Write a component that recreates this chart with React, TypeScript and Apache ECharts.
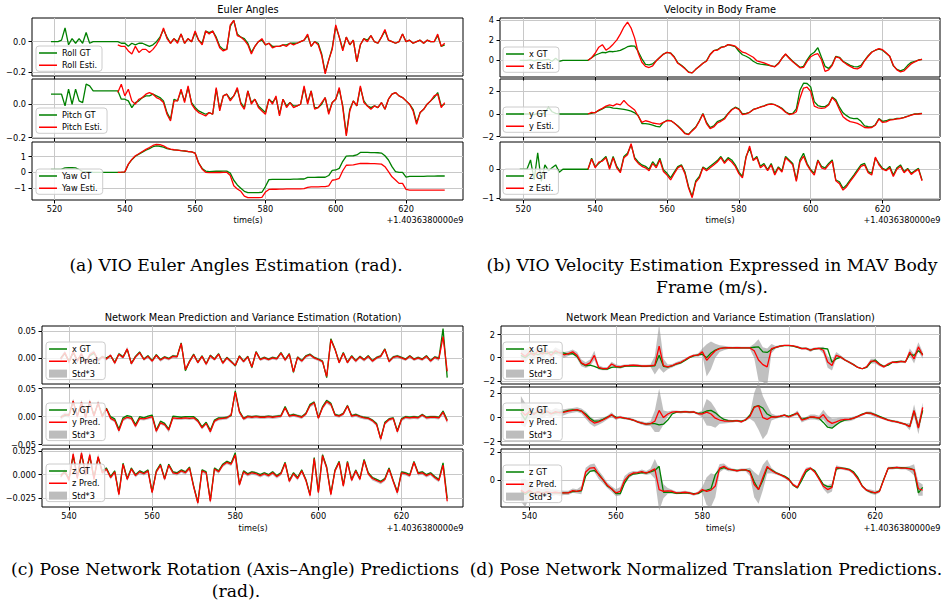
import React, { useEffect, useRef } from 'react';
import * as echarts from 'echarts';

// ---------------- time grids (start second, 1 s step) ----------------
const GT_START = 519;   // VIO ground truth starts
const EST_START = 538;  // estimates / network predictions start

// ---------------- (a) Euler angles (rad) ----------------
const rollGT = [
  0.00,
  0.00, 0.00, 0.01, 0.09, -0.02, 0.02, -0.01, 0.02, -0.01, 0.06,
  -0.01, 0.00, 0.00, 0.00, 0.00, 0.00, 0.00, 0.00, 0.00, -0.01,
  -0.01, -0.03, -0.01, -0.02, -0.01, -0.01, -0.02, -0.03, -0.02, 0.00,
  0.03, 0.08, 0.03, -0.01, 0.02, 0.00, 0.05, -0.01, 0.02, 0.00,
  0.06, 0.01, -0.01, 0.07, 0.06, 0.07, 0.03, -0.03, -0.05, -0.05,
  0.10, 0.14, 0.05, 0.03, 0.02, -0.01, -0.07, -0.03, 0.00, 0.01,
  -0.02, -0.01, -0.03, -0.03, -0.03, -0.02, -0.02, -0.01, -0.01, -0.01,
  0.00, 0.01, 0.04, -0.03, 0.00, -0.01, -0.08, -0.20, -0.12, -0.04,
  0.10, 0.03, -0.05, 0.03, -0.02, 0.01, -0.13, -0.02, 0.02, 0.01,
  0.04, 0.00, -0.01, 0.03, 0.07, 0.01, 0.00, -0.01, 0.00, 0.05,
  0.00, 0.01, -0.01, 0.00, 0.01, -0.01, 0.01, 0.00, 0.00, 0.04,
  -0.03, -0.02,
];
const rollEst = [
  -0.02, -0.03,
  -0.03, -0.06, -0.08, -0.03, -0.07, -0.05, -0.05, -0.07, -0.05, -0.02,
  0.02, 0.09, 0.02, -0.01, 0.02, -0.01, 0.05, -0.01, 0.02, 0.00,
  0.07, 0.01, -0.02, 0.07, 0.05, 0.07, 0.02, -0.04, -0.06, -0.05,
  0.11, 0.14, 0.04, 0.03, 0.01, -0.02, -0.08, -0.03, 0.00, 0.02,
  -0.02, -0.01, -0.04, -0.03, -0.03, -0.02, -0.03, -0.01, -0.02, -0.01,
  0.00, 0.01, 0.05, -0.03, 0.00, -0.02, -0.09, -0.21, -0.12, -0.05,
  0.11, 0.03, -0.06, 0.03, -0.02, 0.01, -0.13, -0.02, 0.02, 0.00,
  0.04, 0.00, -0.01, 0.03, 0.08, 0.01, 0.00, -0.01, 0.00, 0.05,
  0.00, 0.01, -0.01, 0.00, 0.01, -0.01, 0.01, 0.00, 0.00, 0.05,
  -0.03, -0.01,
];
const pitchGT = [
  0.06,
  0.06, 0.06, 0.06, -0.01, 0.09, 0.00, 0.09, 0.02, 0.01, 0.12,
  0.11, 0.08, 0.08, 0.08, 0.08, 0.08, 0.08, 0.08, 0.08, 0.03,
  0.03, 0.02, -0.02, 0.01, 0.02, 0.04, 0.05, 0.05, 0.06, 0.05,
  0.04, 0.02, -0.05, -0.09, 0.03, 0.02, 0.08, 0.02, 0.10, 0.01,
  -0.02, -0.04, -0.05, -0.06, -0.05, -0.06, 0.09, -0.03, 0.05, 0.06,
  0.03, 0.05, 0.09, 0.01, -0.02, 0.08, 0.01, 0.03, -0.01, -0.03,
  -0.05, 0.03, 0.01, 0.04, -0.06, 0.03, -0.01, 0.01, -0.01, -0.01,
  0.00, 0.10, 0.01, 0.08, -0.02, -0.02, 0.00, 0.04, -0.05, 0.01,
  0.03, 0.09, -0.01, -0.18, -0.03, 0.02, -0.01, 0.10, 0.02, -0.01,
  -0.02, -0.01, -0.02, 0.01, -0.03, 0.03, 0.06, 0.07, 0.05, 0.04,
  0.02, 0.00, -0.03, -0.11, -0.05, -0.03, 0.00, 0.02, 0.04, 0.07,
  -0.01, 0.00,
];
const pitchEst = [
  0.07, 0.12,
  0.05, 0.09, 0.02, 0.00, 0.03, 0.04, 0.06, 0.07, 0.06, 0.04,
  0.03, 0.01, -0.06, -0.10, 0.02, 0.02, 0.09, 0.01, 0.11, 0.00,
  -0.03, -0.05, -0.06, -0.07, -0.05, -0.06, 0.10, -0.04, 0.05, 0.06,
  0.02, 0.05, 0.10, 0.00, -0.03, 0.08, 0.00, 0.03, -0.02, -0.04,
  -0.06, 0.03, 0.00, 0.05, -0.07, 0.03, -0.02, 0.01, -0.02, -0.01,
  0.00, 0.11, 0.00, 0.08, -0.03, -0.02, 0.01, 0.04, -0.06, 0.01,
  0.03, 0.10, -0.02, -0.19, -0.04, 0.02, -0.01, 0.11, 0.01, -0.01,
  -0.03, -0.01, -0.02, 0.01, -0.03, 0.03, 0.06, 0.07, 0.05, 0.04,
  0.02, 0.00, -0.04, -0.12, -0.05, -0.03, 0.00, 0.02, 0.05, 0.06,
  -0.02, 0.01,
];
const yawGT = [
  0.19,
  0.19, 0.19, 0.20, 0.28, 0.29, 0.29, 0.28, 0.18, 0.05, 0.05,
  0.04, 0.00, 0.00, 0.00, 0.00, 0.00, 0.00, 0.00, 0.00, 0.00,
  0.02, 0.50, 0.80, 1.02, 1.15, 1.28, 1.40, 1.50, 1.62, 1.68,
  1.65, 1.60, 1.50, 1.45, 1.42, 1.40, 1.37, 1.35, 1.31, 1.30,
  1.22, 0.60, 0.25, 0.08, 0.05, 0.06, 0.07, 0.07, 0.08, 0.08,
  -0.05, -0.50, -0.80, -1.00, -1.20, -1.28, -1.28, -1.28, -1.28, -1.26,
  -0.90, -0.46, -0.45, -0.45, -0.45, -0.45, -0.44, -0.44, -0.43, -0.43,
  -0.42, -0.42, -0.32, -0.32, -0.32, -0.31, -0.31, -0.31, -0.20, 0.12,
  0.15, 0.25, 0.70, 1.03, 1.04, 1.05, 1.10, 1.26, 1.26, 1.26,
  1.25, 1.25, 1.24, 1.22, 1.05, 0.78, 0.36, 0.05, 0.00, 0.00,
  -0.30, -0.26, -0.26, -0.26, -0.25, -0.25, -0.24, -0.24, -0.24, -0.23,
  -0.23, -0.23,
];
const yawEst = [
  0.00, 0.01,
  0.03, 0.52, 0.82, 1.05, 1.18, 1.32, 1.45, 1.57, 1.70, 1.77,
  1.76, 1.68, 1.55, 1.47, 1.43, 1.41, 1.38, 1.36, 1.32, 1.30,
  1.21, 0.58, 0.20, 0.00, -0.02, -0.02, -0.01, -0.01, 0.00, 0.00,
  -0.20, -0.85, -1.05, -1.20, -1.50, -1.60, -1.60, -1.60, -1.60, -1.58,
  -1.25, -1.08, -1.07, -1.07, -1.06, -1.06, -1.05, -1.05, -1.05, -1.04,
  -1.04, -1.03, -0.95, -0.92, -0.92, -0.92, -0.91, -0.91, -0.85, -0.50,
  -0.46, -0.38, 0.10, 0.45, 0.46, 0.47, 0.52, 0.57, 0.56, 0.56,
  0.55, 0.55, 0.54, 0.52, 0.36, 0.05, -0.28, -0.48, -0.70, -0.70,
  -1.08, -1.12, -1.12, -1.12, -1.12, -1.12, -1.13, -1.13, -1.13, -1.13,
  -1.13, -1.13,
];

// ---------------- (b) velocity in body frame (m/s) ----------------
const vxGT = [
  0.00,
  0.00, 0.00, 0.05, -0.05, 0.05, 0.00, 0.05, 0.10, -0.10, 0.20,
  -0.10, 0.00, 0.00, 0.00, 0.00, 0.00, 0.00, 0.00, 0.00, 0.25,
  0.50, 0.65, 0.78, 0.75, 0.88, 0.85, 0.90, 0.98, 1.15, 1.35,
  1.42, 1.40, 0.85, 0.15, -0.40, -0.45, -0.35, -0.05, 0.30, 0.62,
  0.78, 0.72, 0.35, -0.25, -0.50, -0.80, -1.15, -1.25, -0.90, -0.60,
  -0.30, -0.05, 0.60, 0.95, 1.05, 1.30, 1.35, 1.55, 1.45, 1.35,
  0.90, 0.55, 0.40, 0.20, -0.10, -0.30, -0.38, -0.42, -0.48, -0.55,
  -0.62, -0.30, 0.20, 0.60, 0.25, -0.10, -0.40, -0.70, -0.60, 0.05,
  0.55, 0.80, 1.25, 0.30, -0.60, -0.80, -0.40, 0.40, 0.30, -0.10,
  -0.30, -0.50, -0.62, -0.65, -0.50, 0.00, 0.45, 0.82, 1.00, 1.12,
  1.00, 0.70, 0.40, -0.55, -0.90, -1.05, -0.90, -0.50, -0.20, -0.12,
  0.03, 0.08,
];
const vxEst = [
  0.00, 0.25,
  0.70, 1.30, 1.55, 1.00, 1.25, 1.60, 2.00, 2.60, 3.30, 3.80,
  3.20, 2.20, 0.70, -0.20, -0.60, -0.72, -0.55, -0.05, 0.28, 0.60,
  0.78, 0.70, 0.30, -0.30, -0.55, -0.85, -1.20, -1.25, -0.90, -0.62,
  -0.30, -0.10, 0.55, 0.95, 1.00, 1.25, 1.35, 1.55, 1.50, 1.40,
  1.10, 0.80, 0.70, 0.50, 0.30, -0.05, -0.15, -0.25, -0.40, -0.55,
  -0.65, -0.35, 0.20, 0.62, 0.20, -0.15, -0.45, -0.75, -0.70, -0.10,
  0.35, 0.55, 0.65, 0.05, -1.10, -0.95, -0.50, 0.35, 0.25, -0.15,
  -0.40, -0.60, -0.80, -0.85, -0.65, -0.05, 0.40, 0.80, 1.00, 1.15,
  1.05, 0.75, 0.40, -0.50, -0.95, -1.15, -1.05, -0.70, -0.35, -0.15,
  0.02, 0.10,
];
const vyGT = [
  0.00,
  0.00, 0.00, 0.00, -0.05, 0.05, 0.00, 0.10, 0.60, 0.20, 0.05,
  0.00, 0.00, 0.00, 0.00, 0.00, 0.00, 0.00, 0.00, 0.00, 0.05,
  0.15, 0.30, 0.45, 0.62, 0.60, 0.52, 0.50, 0.45, 0.40, 0.35,
  0.25, 0.10, -0.15, -0.85, -0.85, -0.90, -0.98, -1.10, -1.15, -0.75,
  -0.55, -0.58, -0.80, -1.05, -1.35, -1.70, -1.80, -1.45, -1.15, -0.60,
  0.05, -0.75, -1.20, -1.05, -0.68, -0.55, -0.35, 0.05, 0.40, 0.60,
  0.45, 0.00, 0.05, 0.15, 0.40, 0.50, 0.62, 0.72, 0.85, 0.89,
  0.82, 0.68, 0.50, 0.20, 0.02, 0.05, 0.45, 2.10, 2.73, 2.70,
  2.40, 1.10, 0.75, 0.65, 0.65, 0.85, 1.50, 1.25, 0.60, 0.10,
  -0.15, -0.35, -0.42, -0.40, -0.65, -1.05, -1.13, -1.15, -0.95, -0.40,
  -0.65, -0.60, -0.48, -0.47, -0.40, -0.39, -0.30, -0.20, -0.08, 0.00,
  0.02, 0.05,
];
const vyEst = [
  0.00, 0.15,
  0.10, 0.35, 0.50, 0.70, 0.80, 0.72, 0.89, 0.80, 1.20, 0.85,
  0.60, 0.35, -0.20, -0.75, -0.60, -0.68, -0.80, -0.85, -0.90, -0.75,
  -0.60, -0.58, -0.80, -1.10, -1.40, -1.75, -1.82, -1.50, -1.20, -0.65,
  0.00, -0.85, -1.30, -1.15, -0.80, -0.65, -0.45, 0.00, 0.35, 0.55,
  0.40, -0.05, 0.00, 0.15, 0.38, 0.50, 0.60, 0.70, 0.82, 0.88,
  0.82, 0.65, 0.45, 0.15, -0.05, 0.00, 0.20, 1.40, 2.30, 2.37,
  2.00, 0.70, 0.55, 0.50, 0.55, 0.80, 1.45, 1.10, 0.40, -0.25,
  -0.50, -0.68, -0.75, -0.83, -1.00, -1.20, -1.22, -1.20, -1.00, -0.45,
  -0.75, -0.70, -0.55, -0.50, -0.43, -0.40, -0.32, -0.22, -0.10, -0.02,
  0.00, 0.03,
];
const vzGT = [
  0.00,
  0.00, 0.00, 0.32, -0.37, 0.57, -0.42, 0.15, -0.05, 0.05, 0.15,
  -0.10, 0.00, 0.00, 0.00, 0.00, 0.00, 0.00, 0.00, 0.00, 0.38,
  0.09, 0.20, 0.32, 0.44, 0.05, 0.44, 0.10, -0.08, 0.44, 0.55,
  0.84, 0.40, 0.25, 0.15, 0.10, 0.00, 0.26, 0.10, 0.38, -0.02,
  -0.14, -0.30, -0.10, 0.09, 0.15, -0.10, -0.60, -0.94, -0.40, -0.25,
  0.08, 0.00, 0.10, 0.20, 0.30, 0.44, 0.25, 0.40, 0.32, 0.15,
  -0.10, -0.25, 0.44, 0.72, 0.32, 0.44, 0.10, 0.20, -0.02, 0.20,
  -0.14, 0.08, -0.05, 0.44, 0.32, 0.20, -0.37, 0.32, 0.55, 0.20,
  -0.02, -0.14, 0.32, 0.10, 0.05, 0.20, 0.32, -0.37, -0.43, -0.66,
  -0.54, -0.37, -0.20, -0.02, 0.15, 0.20, -0.08, -0.14, 0.38, 0.20,
  0.03, -0.02, 0.10, -0.20, 0.05, 0.15, -0.08, 0.03, -0.14, -0.05,
  0.03, -0.37,
];
const vzEst = [
  0.00, 0.35,
  0.05, 0.25, 0.28, 0.40, 0.00, 0.40, 0.05, -0.12, 0.40, 0.50,
  0.88, 0.35, 0.20, 0.10, 0.05, -0.05, 0.20, 0.05, 0.32, -0.08,
  -0.20, -0.37, -0.15, 0.05, 0.12, -0.15, -0.65, -0.98, -0.45, -0.30,
  0.05, -0.05, 0.05, 0.15, 0.25, 0.40, 0.20, 0.35, 0.25, 0.10,
  -0.15, -0.30, 0.40, 0.80, 0.30, 0.40, 0.05, 0.15, -0.05, 0.15,
  -0.20, 0.05, -0.10, 0.40, 0.28, 0.15, -0.42, 0.25, 0.45, 0.15,
  -0.05, -0.20, 0.30, 0.05, 0.00, 0.15, 0.28, -0.40, -0.50, -0.72,
  -0.60, -0.42, -0.25, -0.08, 0.10, 0.15, -0.12, -0.20, 0.42, 0.15,
  0.00, -0.05, 0.05, -0.25, 0.00, 0.10, -0.12, 0.00, -0.18, -0.08,
  0.00, -0.40,
];

// ---------------- (c) rotation network predictions (rad) ----------------
const rxGT = [
  0.000, 0.008,
  -0.006, 0.010, -0.004, 0.006, -0.008, 0.004, 0.009, -0.003, 0.002, 0.000,
  0.004, -0.008, 0.008, 0.002, 0.016, -0.010, 0.003, 0.011, -0.002, 0.004,
  -0.005, 0.006, -0.003, 0.002, -0.001, 0.004, 0.003, 0.028, -0.024, -0.006,
  0.007, -0.008, 0.004, -0.011, 0.005, -0.002, 0.008, -0.009, 0.001, -0.006,
  -0.015, 0.004, -0.006, 0.003, -0.018, 0.012, -0.002, 0.001, -0.002, 0.001,
  -0.001, 0.010, -0.003, 0.008, -0.027, 0.002, -0.005, 0.004, 0.007, 0.001,
  -0.002, -0.006, -0.037, 0.036, 0.017, -0.008, 0.010, -0.008, 0.004, -0.005,
  0.003, -0.003, 0.004, -0.005, 0.001, 0.004, 0.017, -0.006, 0.002, 0.004,
  0.001, -0.002, 0.004, -0.002, 0.001, -0.002, 0.004, -0.005, 0.002, -0.001,
  0.055, -0.037,
];
const rxPred = [
  -0.002, 0.010,
  -0.008, 0.012, -0.006, 0.008, -0.010, 0.006, 0.011, -0.005, 0.002, -0.002,
  0.005, -0.010, 0.007, 0.001, 0.017, -0.011, 0.002, 0.010, -0.003, 0.003,
  -0.006, 0.005, -0.004, 0.001, -0.002, 0.003, 0.002, 0.027, -0.022, -0.007,
  0.006, -0.009, 0.003, -0.012, 0.004, -0.003, 0.007, -0.010, 0.000, -0.007,
  -0.014, 0.003, -0.007, 0.002, -0.017, 0.011, -0.003, 0.000, -0.003, 0.000,
  -0.002, 0.009, -0.004, 0.007, -0.026, 0.001, -0.006, 0.003, 0.006, 0.000,
  -0.003, -0.007, -0.035, 0.034, 0.016, -0.009, 0.009, -0.009, 0.003, -0.006,
  0.002, -0.004, 0.003, -0.006, 0.000, 0.003, 0.016, -0.007, 0.001, 0.003,
  0.000, -0.003, 0.003, -0.003, 0.000, -0.003, 0.003, -0.006, 0.001, -0.002,
  0.040, -0.025,
];
const rxStd3 = [
  0.004, 0.004,
  0.004, 0.004, 0.004, 0.004, 0.004, 0.004, 0.004, 0.004, 0.003, 0.003,
  0.003, 0.003, 0.003, 0.003, 0.004, 0.003, 0.003, 0.003, 0.003, 0.003,
  0.003, 0.003, 0.003, 0.003, 0.003, 0.003, 0.003, 0.004, 0.004, 0.003,
  0.003, 0.003, 0.003, 0.003, 0.003, 0.003, 0.003, 0.003, 0.003, 0.003,
  0.003, 0.003, 0.003, 0.003, 0.004, 0.003, 0.003, 0.003, 0.003, 0.003,
  0.003, 0.003, 0.003, 0.003, 0.004, 0.003, 0.003, 0.003, 0.003, 0.003,
  0.003, 0.003, 0.004, 0.004, 0.003, 0.003, 0.003, 0.003, 0.003, 0.003,
  0.003, 0.003, 0.003, 0.003, 0.003, 0.003, 0.003, 0.003, 0.003, 0.003,
  0.003, 0.003, 0.003, 0.003, 0.003, 0.003, 0.003, 0.003, 0.003, 0.004,
  0.005, 0.005,
];
const ryGT = [
  0.000, 0.002,
  0.004, 0.027, 0.002, 0.025, 0.000, 0.026, 0.003, 0.024, 0.002, 0.015,
  0.000, -0.004, -0.022, -0.002, 0.002, 0.000, -0.014, 0.000, -0.002, 0.001,
  0.003, -0.024, -0.008, -0.012, -0.022, 0.001, 0.000, -0.001, 0.000, 0.000,
  0.000, -0.006, -0.018, -0.010, -0.024, -0.006, -0.002, -0.002, -0.001, 0.002,
  0.046, 0.010, -0.003, 0.001, 0.000, 0.001, 0.000, 0.000, 0.001, 0.000,
  0.001, 0.002, 0.018, 0.002, 0.004, 0.002, 0.000, 0.006, 0.022, 0.026,
  -0.002, 0.018, 0.029, 0.024, 0.004, 0.002, 0.006, 0.020, 0.002, 0.004,
  0.001, -0.001, -0.002, -0.006, -0.012, -0.039, -0.010, -0.004, -0.002, -0.025,
  -0.004, 0.000, -0.001, 0.000, -0.001, 0.004, -0.001, 0.000, 0.000, -0.001,
  0.010, -0.006,
];
const ryPred = [
  -0.002, 0.004,
  0.002, 0.028, 0.000, 0.026, -0.002, 0.027, 0.001, 0.025, 0.000, 0.014,
  -0.003, -0.007, -0.025, -0.005, -0.001, -0.003, -0.017, -0.003, -0.004, -0.002,
  0.000, -0.026, -0.011, -0.014, -0.024, -0.002, -0.003, -0.003, -0.002, -0.003,
  -0.002, -0.008, -0.020, -0.012, -0.027, -0.008, -0.004, -0.003, -0.002, 0.003,
  0.044, 0.008, -0.004, 0.000, -0.001, 0.000, -0.001, -0.001, 0.000, -0.001,
  0.000, 0.001, 0.016, 0.001, 0.003, 0.001, -0.001, 0.005, 0.020, 0.025,
  -0.003, 0.016, 0.027, 0.022, 0.003, 0.001, 0.005, 0.019, 0.001, 0.003,
  0.000, -0.002, -0.003, -0.007, -0.014, -0.040, -0.012, -0.005, -0.003, -0.027,
  -0.005, -0.001, -0.002, -0.001, -0.002, 0.003, -0.002, -0.001, -0.001, -0.002,
  0.008, -0.008,
];
const ryStd3 = [
  0.004, 0.004,
  0.004, 0.004, 0.004, 0.004, 0.004, 0.004, 0.004, 0.004, 0.003, 0.003,
  0.003, 0.003, 0.004, 0.003, 0.003, 0.003, 0.003, 0.003, 0.003, 0.003,
  0.003, 0.004, 0.003, 0.003, 0.004, 0.003, 0.003, 0.003, 0.003, 0.003,
  0.003, 0.003, 0.003, 0.003, 0.004, 0.003, 0.003, 0.003, 0.003, 0.003,
  0.004, 0.003, 0.003, 0.003, 0.003, 0.003, 0.003, 0.003, 0.003, 0.003,
  0.003, 0.003, 0.003, 0.003, 0.003, 0.003, 0.003, 0.003, 0.003, 0.004,
  0.003, 0.003, 0.004, 0.004, 0.003, 0.003, 0.003, 0.003, 0.003, 0.003,
  0.003, 0.003, 0.003, 0.003, 0.003, 0.005, 0.003, 0.003, 0.003, 0.004,
  0.003, 0.003, 0.003, 0.003, 0.003, 0.003, 0.003, 0.003, 0.003, 0.003,
  0.004, 0.004,
];
const rzGT = [
  0.000, 0.002,
  -0.004, 0.020, -0.002, 0.021, 0.002, 0.019, -0.003, 0.018, 0.004, 0.007,
  -0.002, 0.004, -0.020, 0.012, -0.004, 0.007, 0.000, 0.004, 0.002, 0.005,
  -0.018, 0.004, 0.011, -0.004, 0.011, 0.003, 0.002, 0.005, 0.003, 0.008,
  -0.012, -0.029, 0.005, 0.003, -0.027, 0.007, 0.004, 0.011, 0.014, 0.012,
  0.023, -0.010, 0.004, 0.001, 0.003, 0.002, 0.000, 0.002, 0.000, 0.003,
  -0.001, 0.002, 0.013, -0.006, 0.002, -0.003, 0.005, -0.005, -0.021, 0.018,
  -0.018, 0.021, 0.008, -0.020, 0.005, 0.014, -0.011, 0.014, -0.005, 0.005,
  -0.004, 0.016, 0.002, -0.003, -0.005, -0.007, -0.004, 0.007, -0.006, -0.018,
  0.003, 0.002, 0.000, 0.014, 0.002, 0.003, 0.000, 0.002, -0.002, -0.005,
  0.0125, -0.025,
];
const rzPred = [
  -0.002, 0.004,
  -0.006, 0.022, -0.004, 0.023, 0.000, 0.021, -0.005, 0.019, 0.002, 0.006,
  -0.003, 0.003, -0.021, 0.011, -0.005, 0.006, -0.001, 0.003, 0.001, 0.004,
  -0.019, 0.003, 0.010, -0.005, 0.010, 0.002, 0.001, 0.004, 0.002, 0.007,
  -0.013, -0.030, 0.004, 0.002, -0.028, 0.006, 0.003, 0.010, 0.013, 0.011,
  0.021, -0.011, 0.003, 0.000, 0.002, 0.001, -0.001, 0.001, -0.001, 0.002,
  -0.002, 0.001, 0.012, -0.007, 0.001, -0.004, 0.004, -0.006, -0.022, 0.017,
  -0.019, 0.020, 0.007, -0.021, 0.004, 0.013, -0.012, 0.013, -0.006, 0.004,
  -0.005, 0.015, 0.001, -0.004, -0.006, -0.008, -0.005, 0.006, -0.007, -0.019,
  0.002, 0.001, -0.001, 0.013, 0.001, 0.002, -0.001, 0.001, -0.003, -0.006,
  0.010, -0.028,
];
const rzStd3 = [
  0.002, 0.002,
  0.002, 0.003, 0.002, 0.003, 0.002, 0.003, 0.002, 0.003, 0.002, 0.002,
  0.002, 0.002, 0.003, 0.002, 0.002, 0.002, 0.002, 0.002, 0.002, 0.002,
  0.003, 0.002, 0.002, 0.002, 0.002, 0.002, 0.002, 0.002, 0.002, 0.002,
  0.002, 0.003, 0.002, 0.002, 0.003, 0.002, 0.002, 0.002, 0.002, 0.002,
  0.003, 0.002, 0.002, 0.002, 0.002, 0.002, 0.002, 0.002, 0.002, 0.002,
  0.002, 0.002, 0.002, 0.002, 0.002, 0.002, 0.002, 0.002, 0.003, 0.002,
  0.003, 0.003, 0.002, 0.003, 0.002, 0.002, 0.002, 0.002, 0.002, 0.002,
  0.002, 0.002, 0.002, 0.002, 0.002, 0.002, 0.002, 0.002, 0.002, 0.003,
  0.002, 0.002, 0.002, 0.002, 0.002, 0.002, 0.002, 0.002, 0.002, 0.002,
  0.003, 0.003,
];

// ---------------- (d) normalized translation predictions ----------------
const txGT = [
  0.20, 0.00,
  0.30, 0.40, 0.25, 0.45, 0.35, 0.50, 0.40, 0.45, 0.40, 0.30,
  0.35, 0.10, -0.50, -0.70, -0.65, -0.75, -0.90, -1.00, -1.00, -0.85,
  -0.80, -0.85, -0.75, -0.72, -0.70, -0.72, -0.75, -0.75, -0.72, -0.70,
  0.20, -0.75, -0.82, -0.72, -0.55, -0.45, -0.25, 0.00, 0.15, 0.25,
  0.30, 0.00, 0.40, 0.65, 0.80, 0.84, 0.86, 0.84, 0.86, 0.84,
  0.84, 0.84, 0.90, 0.93, 0.50, 0.45, 0.70, 0.90, 1.00, 1.05,
  1.05, 1.00, 0.90, 0.80, 0.80, 0.65, 0.75, 0.80, 0.80, 0.75,
  -0.40, -0.10, 0.05, -0.20, -0.40, -0.60, -0.85, -0.96, -0.85, -0.40,
  -0.20, -0.55, -0.75, -0.65, -0.40, -0.35, -0.32, -0.35, 0.30, 0.20,
  0.60, 0.30,
];
const txPred = [
  0.40, 0.10,
  0.50, 0.20, 0.60, 0.30, 0.55, 0.20, 0.60, 0.40, 0.25, 0.35,
  0.50, 0.20, -0.45, -0.65, -0.45, 0.20, -0.85, -0.95, -0.95, -0.55,
  -0.75, -0.80, -0.70, -0.68, -0.65, -0.68, -0.72, -0.72, -0.70, -0.65,
  1.00, -0.70, -0.80, -0.70, -0.52, -0.40, -0.18, 0.05, 0.20, 0.22,
  0.50, -0.23, 0.20, 0.60, 0.78, 0.84, 0.86, 0.84, 0.86, 0.84,
  0.84, 0.84, 0.60, -0.20, -0.60, -0.80, 0.78, 0.90, 1.00, 1.07,
  1.07, 1.02, 0.93, 0.78, 0.80, 0.64, 0.78, 0.80, 0.64, -0.38,
  -0.67, 0.20, 0.05, -0.20, -0.40, -0.61, -0.85, -0.96, -0.80, -0.30,
  -0.30, -0.60, -0.80, -0.55, -0.38, -0.40, -0.32, -0.38, 0.49, -0.10,
  0.93, 0.20,
];
const txStd3 = [
  0.5, 0.6,
  0.4, 0.5, 0.4, 0.4, 0.3, 0.3, 0.3, 0.3, 0.25, 0.2,
  0.2, 0.3, 0.3, 0.25, 0.3, 0.4, 0.2, 0.15, 0.15, 0.2,
  0.15, 0.15, 0.1, 0.1, 0.1, 0.1, 0.1, 0.1, 0.1, 0.8,
  1.9, 0.6, 0.2, 0.15, 0.15, 0.15, 0.1, 0.1, 0.1, 0.15,
  0.3, 1.4, 1.2, 0.6, 0.3, 0.2, 0.1, 0.1, 0.1, 0.1,
  0.1, 0.1, 0.6, 1.8, 1.5, 1.6, 0.4, 0.1, 0.1, 0.05,
  0.05, 0.05, 0.1, 0.1, 0.1, 0.15, 0.1, 0.1, 0.3, 0.5,
  0.45, 0.3, 0.15, 0.1, 0.1, 0.1, 0.05, 0.05, 0.1, 0.2,
  0.2, 0.15, 0.1, 0.1, 0.1, 0.1, 0.1, 0.1, 0.3, 0.4,
  0.4, 0.3,
];
const tyGT = [
  0.40, -0.20,
  0.60, 0.35, 0.45, 0.30, 0.50, 0.35, 0.40, 0.45, 0.50, 0.60,
  0.65, 0.62, 0.55, 0.30, -0.05, -0.30, -0.30, -0.15, 0.05, 0.20,
  0.05, 0.00, -0.05, -0.10, -0.20, -0.35, -0.45, -0.55, -0.50, -0.50,
  -0.60, -0.55, -0.20, 0.30, 0.45, 0.48, 0.50, 0.45, 0.45, 0.35,
  0.40, 0.55, 0.60, 0.40, 0.10, -0.15, -0.25, -0.28, -0.25, -0.30,
  -0.20, 0.20, 0.90, 1.00, 0.80, 0.30, 0.10, 0.05, 0.10, 0.20,
  0.10, 0.25, 0.35, -0.15, -0.05, 0.05, 0.00, -0.05, -0.40, -0.80,
  -0.88, -0.60, -0.35, -0.20, -0.15, -0.05, 0.10, 0.30, 0.40, 0.38,
  0.25, 0.10, -0.05, -0.20, -0.28, -0.35, -0.45, -0.55, -0.75, 0.55,
  -0.80, 0.60,
];
const tyPred = [
  0.60, 0.20,
  0.50, 0.25, 0.60, 0.35, 0.55, 0.30, 0.50, 0.40, 0.45, 0.55,
  0.60, 0.67, 0.55, 0.20, -0.20, -0.45, -0.35, -0.20, 0.00, 0.25,
  -0.05, 0.05, -0.05, -0.10, -0.20, -0.35, -0.45, -0.55, -0.50, -0.30,
  0.60, 0.00, 0.30, 0.45, 0.50, 0.45, 0.50, 0.45, 0.48, 0.32,
  0.30, 0.45, 0.30, -0.05, -0.20, -0.28, -0.30, -0.30, -0.25, -0.35,
  -0.18, 0.10, 0.85, 0.99, 0.00, -0.15, 0.05, 0.05, 0.12, 0.20,
  0.05, 0.20, 0.40, -0.20, -0.10, 0.05, 0.05, -0.05, 0.25, -0.25,
  -0.48, -0.35, -0.20, -0.15, -0.15, -0.05, 0.10, 0.25, 0.40, 0.35,
  0.20, 0.05, -0.08, -0.20, -0.30, -0.35, -0.45, -0.56, -0.75, 0.59,
  -0.88, 0.85,
];
const tyStd3 = [
  1.2, 1.0,
  0.5, 0.4, 0.5, 0.4, 0.4, 0.3, 0.3, 0.3, 0.25, 0.2,
  0.2, 0.2, 0.2, 0.3, 0.3, 0.3, 0.25, 0.2, 0.15, 0.2,
  0.15, 0.1, 0.1, 0.1, 0.1, 0.1, 0.15, 0.15, 0.2, 0.9,
  1.8, 0.6, 0.2, 0.15, 0.1, 0.1, 0.1, 0.1, 0.1, 0.1,
  0.3, 1.1, 1.0, 0.8, 0.3, 0.2, 0.15, 0.1, 0.1, 0.1,
  0.1, 0.2, 1.2, 2.0, 1.8, 1.2, 0.3, 0.15, 0.1, 0.1,
  0.1, 0.1, 0.2, 0.2, 0.15, 0.2, 0.2, 0.2, 0.4, 0.45,
  0.4, 0.3, 0.2, 0.15, 0.15, 0.15, 0.1, 0.1, 0.1, 0.15,
  0.15, 0.1, 0.1, 0.1, 0.1, 0.1, 0.1, 0.1, 0.3, 0.5,
  0.5, 0.4,
];
const tzGT = [
  -0.80, -1.00,
  -0.80, -0.90, -0.85, -0.90, -0.85, -0.88, -0.90, -0.88, -0.89, -0.88,
  -0.80, -0.78, -0.75, 0.30, 0.64, 0.70, 0.45, 0.05, -0.40, -0.60,
  -0.95, -0.95, -0.20, 0.30, 0.45, 0.48, 0.55, 0.52, 0.60, 0.70,
  1.00, -0.85, -0.85, -0.88, -0.92, -0.92, -0.90, -0.92, -0.95, -0.95,
  -0.75, -0.70, -0.60, 0.40, 0.80, 0.90, 0.80, 0.75, 0.70, 0.72,
  0.75, 0.65, -0.10, -0.65, 0.00, 0.90, 0.75, 0.55, 0.40, 0.30,
  0.10, -0.35, -0.55, 0.00, 0.60, 0.85, 0.70, 0.20, -0.30, -0.45,
  -0.45, 0.80, 0.88, 0.85, 0.78, 0.60, 0.20, -0.40, -0.70, -0.85,
  -0.90, -0.75, 0.10, 0.85, 0.90, 0.88, 0.90, 0.88, 0.85, 0.75,
  -0.89, -0.50,
];
const tzPred = [
  -0.70, -0.90,
  -0.70, -0.95, -0.80, -0.95, -0.82, -0.90, -0.85, -0.90, -0.89, -0.89,
  -0.73, -0.78, -0.70, 0.60, 0.87, 0.90, 0.40, 0.05, -0.35, -0.62,
  -0.89, -0.78, 0.00, 0.35, 0.52, 0.55, 0.62, 0.52, 0.65, 0.82,
  -0.66, -0.78, -0.75, -0.78, -0.89, -0.88, -0.85, -0.89, -1.00, -0.90,
  -0.66, -0.78, -0.70, -0.40, 0.87, 0.99, 0.80, 0.75, 0.68, 0.75,
  0.75, 0.60, -0.30, -0.66, 0.20, 0.99, 0.70, 0.52, 0.40, 0.25,
  0.05, -0.31, -0.50, 0.16, 0.75, 0.87, 0.60, 0.10, -0.42, -0.66,
  -0.50, 0.92, 0.87, 0.82, 0.75, 0.52, 0.10, -0.42, -0.70, -0.80,
  -0.89, -0.78, 0.05, 0.87, 0.87, 0.92, 0.87, 0.87, 0.82, 0.75,
  -0.60, -0.70,
];
const tzStd3 = [
  0.8, 1.0,
  0.5, 0.4, 0.3, 0.3, 0.3, 0.25, 0.2, 0.2, 0.15, 0.15,
  0.15, 0.15, 0.3, 0.3, 0.25, 0.3, 0.3, 0.25, 0.2, 0.2,
  0.25, 0.3, 0.3, 0.2, 0.15, 0.1, 0.15, 0.15, 0.2, 0.7,
  1.5, 0.5, 0.2, 0.1, 0.1, 0.1, 0.1, 0.1, 0.1, 0.1,
  0.2, 1.0, 1.2, 0.8, 0.3, 0.2, 0.15, 0.1, 0.1, 0.1,
  0.1, 0.3, 0.9, 1.0, 0.9, 0.5, 0.2, 0.1, 0.1, 0.1,
  0.1, 0.1, 0.1, 0.2, 0.15, 0.1, 0.1, 0.1, 0.2, 0.3,
  0.3, 0.15, 0.1, 0.1, 0.1, 0.1, 0.1, 0.1, 0.1, 0.15,
  0.15, 0.1, 0.1, 0.1, 0.1, 0.1, 0.1, 0.1, 0.2, 0.4,
  0.5, 0.4,
];

// ---------------- ticks & texts ----------------
const xTicksVio = [520, 540, 560, 580, 600, 620];
const xTicksNet = [540, 560, 580, 600, 620];
const OFFSET_TEXT = '+1.4036380000e9';

// ---------------- styles ----------------
const GREEN = '#008000';
const RED = '#ff0000';
const BAND = 'rgba(150,150,150,0.6)';
const GRIDC = '#c8c8c8';
const SANS = '"DejaVu Sans", sans-serif';
const SERIF = '17.2px "DejaVu Serif", serif';
const TICK_FS = 8.2;
const LINE_W = 1.3;
// legend handle: a thin horizontal bar, with two tiny corner points so the
// icon keeps its 18x8 box instead of being stretched vertically
const LINE_ICON = 'path://M0,0h0.01v0.01h-0.01z M0,3.3h18v1.5h-18z M17.99,7.99h0.01v0.01h-0.01z';

const fmt = (v: number, dec: number) => v.toFixed(dec).replace('-', '\u2212');

const pairs = (t0: number, vals: number[]) => vals.map((v, i) => [t0 + i, v]);

type Sub = {
  grid: { left: number; top: number; width: number; height: number };
  xr: [number, number];
  xTicks: number[];
  yr: [number, number];
  yTicks: number[];
  dec: number;
  bottom: boolean;
  legendPos: [number, number];
  gtName: string;
  estName: string;
  gt: number[];
  gtStart: number;
  est: number[];
  std?: number[];
};

const subs: Sub[] = [
  // (a)
  { grid: { left: 32, top: 18, width: 431, height: 58 }, xr: [513.6, 636.2], xTicks: xTicksVio, yr: [-0.224, 0.155], yTicks: [-0.2, 0], dec: 1, bottom: false, legendPos: [36, 46], gtName: 'Roll GT', estName: 'Roll Esti.', gt: rollGT, gtStart: GT_START, est: rollEst },
  { grid: { left: 32, top: 79, width: 431, height: 59 }, xr: [513.6, 636.2], xTicks: xTicksVio, yr: [-0.202, 0.151], yTicks: [-0.2, 0], dec: 1, bottom: false, legendPos: [36, 108], gtName: 'Pitch GT', estName: 'Pitch Esti.', gt: pitchGT, gtStart: GT_START, est: pitchEst },
  { grid: { left: 32, top: 142, width: 431, height: 58 }, xr: [513.6, 636.2], xTicks: xTicksVio, yr: [-1.75, 1.92], yTicks: [-1, 0, 1], dec: 0, bottom: true, legendPos: [36, 169], gtName: 'Yaw GT', estName: 'Yaw Esti.', gt: yawGT, gtStart: GT_START, est: yawEst },
  // (b)
  { grid: { left: 500, top: 18, width: 440, height: 59 }, xr: [513.5, 636.0], xTicks: xTicksVio, yr: [-1.66, 4.2], yTicks: [0, 2, 4], dec: 0, bottom: false, legendPos: [503, 47], gtName: 'x GT', estName: 'x Esti.', gt: vxGT, gtStart: GT_START, est: vxEst },
  { grid: { left: 500, top: 79, width: 440, height: 58 }, xr: [513.5, 636.0], xTicks: xTicksVio, yr: [-2.04, 3.1], yTicks: [-2, 0, 2], dec: 0, bottom: false, legendPos: [503, 107], gtName: 'y GT', estName: 'y Esti.', gt: vyGT, gtStart: GT_START, est: vyEst },
  { grid: { left: 500, top: 142, width: 440, height: 58 }, xr: [513.5, 636.0], xTicks: xTicksVio, yr: [-1.06, 0.94], yTicks: [-1, 0], dec: 0, bottom: true, legendPos: [503, 169], gtName: 'z GT', estName: 'z Esti.', gt: vzGT, gtStart: GT_START, est: vzEst },
  // (c)
  { grid: { left: 42, top: 326, width: 421, height: 58 }, xr: [533.5, 634.8], xTicks: xTicksNet, yr: [-0.049, 0.06], yTicks: [0, 0.05], dec: 2, bottom: false, legendPos: [46, 342], gtName: 'x GT', estName: 'x Pred.', gt: rxGT, gtStart: EST_START, est: rxPred, std: rxStd3 },
  { grid: { left: 42, top: 388, width: 421, height: 57 }, xr: [533.5, 634.8], xTicks: xTicksNet, yr: [-0.0505, 0.0512], yTicks: [-0.05, 0, 0.05], dec: 2, bottom: false, legendPos: [46, 403], gtName: 'y GT', estName: 'y Pred.', gt: ryGT, gtStart: EST_START, est: ryPred, std: ryStd3 },
  { grid: { left: 42, top: 449, width: 421, height: 58 }, xr: [533.5, 634.8], xTicks: xTicksNet, yr: [-0.034, 0.027], yTicks: [-0.025, 0, 0.025], dec: 3, bottom: true, legendPos: [46, 464], gtName: 'z GT', estName: 'z Pred.', gt: rzGT, gtStart: EST_START, est: rzPred, std: rzStd3 },
  // (d)
  { grid: { left: 501, top: 326, width: 439, height: 58 }, xr: [533.4, 635.0], xTicks: xTicksNet, yr: [-2.28, 2.74], yTicks: [-2, 0, 2], dec: 0, bottom: false, legendPos: [503, 342], gtName: 'x GT', estName: 'x Pred.', gt: txGT, gtStart: EST_START, est: txPred, std: txStd3 },
  { grid: { left: 501, top: 387, width: 439, height: 58 }, xr: [533.4, 635.0], xTicks: xTicksNet, yr: [-2.28, 2.55], yTicks: [-2, 0, 2], dec: 0, bottom: false, legendPos: [503, 403], gtName: 'y GT', estName: 'y Pred.', gt: tyGT, gtStart: EST_START, est: tyPred, std: tyStd3 },
  { grid: { left: 501, top: 449, width: 439, height: 58 }, xr: [533.4, 635.0], xTicks: xTicksNet, yr: [-1.9, 2.23], yTicks: [0, 2], dec: 0, bottom: true, legendPos: [503, 465], gtName: 'z GT', estName: 'z Pred.', gt: tzGT, gtStart: EST_START, est: tzPred, std: tzStd3 },
];

function txt(text: string, x: number, y: number, font: string, align = 'center') {
  return {
    type: 'text',
    x,
    y,
    silent: true,
    style: {
      text,
      font,
      fill: '#000',
      align,
      verticalAlign: 'middle',
      textAlign: align,
      textVerticalAlign: 'middle',
    },
  };
}

function buildOption() {
  const grids: any[] = [];
  const xAxes: any[] = [];
  const yAxes: any[] = [];
  const series: any[] = [];
  const legends: any[] = [];

  subs.forEach((s, i) => {
    grids.push({ ...s.grid, show: true, borderColor: '#000', borderWidth: 1, backgroundColor: 'transparent', containLabel: false });
    xAxes.push({
      type: 'value',
      gridIndex: i,
      position: 'bottom',
      min: s.xr[0],
      max: s.xr[1],
      splitNumber: 5,
      axisLine: { show: false, onZero: false },
      axisTick: { show: true, length: 3.5, lineStyle: { color: '#000', width: 1 }, customValues: s.xTicks },
      axisLabel: {
        show: s.bottom,
        customValues: s.xTicks,
        fontSize: TICK_FS,
        fontFamily: SANS,
        color: '#000',
        margin: 5,
        formatter: (v: number) => String(Math.round(v)),
      },
      splitLine: { show: true, lineStyle: { color: GRIDC, width: 1 } },
    });
    yAxes.push({
      type: 'value',
      gridIndex: i,
      position: 'left',
      min: s.yr[0],
      max: s.yr[1],
      axisLine: { show: false, onZero: false },
      axisTick: { show: true, length: 3.5, lineStyle: { color: '#000', width: 1 }, customValues: s.yTicks },
      axisLabel: {
        customValues: s.yTicks,
        fontSize: TICK_FS,
        fontFamily: SANS,
        color: '#000',
        margin: 6,
        formatter: (v: number) => fmt(v, s.dec),
      },
      splitLine: { show: true, lineStyle: { color: GRIDC, width: 1 } },
    });

    if (s.std) {
      const pred = s.est;
      const std = s.std;
      series.push({
        type: 'custom',
        name: 'Std*3',
        xAxisIndex: i,
        yAxisIndex: i,
        z: 1,
        silent: true,
        itemStyle: { color: '#bdbdbd' },
        data: [[EST_START, pred[0]]],
        renderItem: (_p: any, api: any) => {
          const upper = pred.map((v, k) => api.coord([EST_START + k, v + std[k]]));
          const lower = pred.map((v, k) => api.coord([EST_START + k, v - std[k]])).reverse();
          return { type: 'polygon', shape: { points: upper.concat(lower) }, style: { fill: BAND } };
        },
      });
    }
    series.push({
      type: 'line',
      name: s.gtName,
      xAxisIndex: i,
      yAxisIndex: i,
      data: pairs(s.gtStart, s.gt),
      symbol: 'none',
      z: 2,
      silent: true,
      lineStyle: { color: GREEN, width: LINE_W },
      itemStyle: { color: GREEN },
    });
    series.push({
      type: 'line',
      name: s.estName,
      xAxisIndex: i,
      yAxisIndex: i,
      data: pairs(EST_START, s.est),
      symbol: 'none',
      z: 3,
      silent: true,
      lineStyle: { color: RED, width: LINE_W },
      itemStyle: { color: RED },
    });

    const ldata: any[] = [
      { name: s.gtName, icon: LINE_ICON },
      { name: s.estName, icon: LINE_ICON },
    ];
    if (s.std) ldata.push({ name: 'Std*3', icon: 'rect', itemStyle: { color: '#bdbdbd' } });
    legends.push({
      left: s.legendPos[0],
      top: s.legendPos[1],
      orient: 'vertical',
      data: ldata,
      selectedMode: false,
      itemWidth: 18,
      itemHeight: 8,
      itemGap: 4.3,
      padding: [3, 5, 2, 3],
      backgroundColor: 'rgba(255,255,255,0.8)',
      borderColor: '#cccccc',
      borderWidth: 1,
      borderRadius: 3,
      itemStyle: { borderWidth: 0 },
      lineStyle: { width: 0 },
      textStyle: { fontSize: TICK_FS, fontFamily: SANS, color: '#000' },
      z: 10,
    });
  });

  const graphics: any[] = [
    txt('Euler Angles', 248, 9.5, `9.8px ${SANS}`),
    txt('Velocity in Body Frame', 720, 9.5, `9.8px ${SANS}`),
    txt('Network Mean Prediction and Variance Estimation (Rotation)', 253, 317.5, `9.8px ${SANS}`),
    txt('Network Mean Prediction and Variance Estimation (Translation)', 720.5, 317.5, `9.8px ${SANS}`),
    txt('time(s)', 248, 220, `${TICK_FS}px ${SANS}`),
    txt('time(s)', 720, 220, `${TICK_FS}px ${SANS}`),
    txt('time(s)', 253, 528, `${TICK_FS}px ${SANS}`),
    txt('time(s)', 720.5, 528, `${TICK_FS}px ${SANS}`),
    txt(OFFSET_TEXT, 463.5, 220, `${TICK_FS}px ${SANS}`, 'right'),
    txt(OFFSET_TEXT, 940.5, 220, `${TICK_FS}px ${SANS}`, 'right'),
    txt(OFFSET_TEXT, 463.5, 527.5, `${TICK_FS}px ${SANS}`, 'right'),
    txt(OFFSET_TEXT, 940.5, 527.5, `${TICK_FS}px ${SANS}`, 'right'),
    txt('(a) VIO Euler Angles Estimation (rad).', 236, 265, SERIF),
    txt('(b) VIO Velocity Estimation Expressed in MAV Body', 712, 265, SERIF),
    txt('Frame (m/s).', 712, 287, SERIF),
    txt('(c) Pose Network Rotation (Axis\u2013Angle) Predictions', 235, 569, SERIF),
    txt('(rad).', 236, 591, SERIF),
    txt('(d) Pose Network Normalized Translation Predictions.', 706, 569, SERIF),
  ];

  return {
    animation: false,
    backgroundColor: '#ffffff',
    grid: grids,
    xAxis: xAxes,
    yAxis: yAxes,
    legend: legends,
    series,
    graphic: graphics,
  };
}

export default function App() {
  const ref = useRef<HTMLDivElement>(null);
  useEffect(() => {
    if (!ref.current) return;
    const chart = echarts.init(ref.current, undefined, { renderer: 'svg' });
    chart.setOption(buildOption() as any);
    return () => chart.dispose();
  }, []);
  return (
    <div
      ref={ref}
      style={{ position: 'fixed', left: 0, top: 0, width: 947, height: 607, background: '#fff' }}
    />
  );
}
